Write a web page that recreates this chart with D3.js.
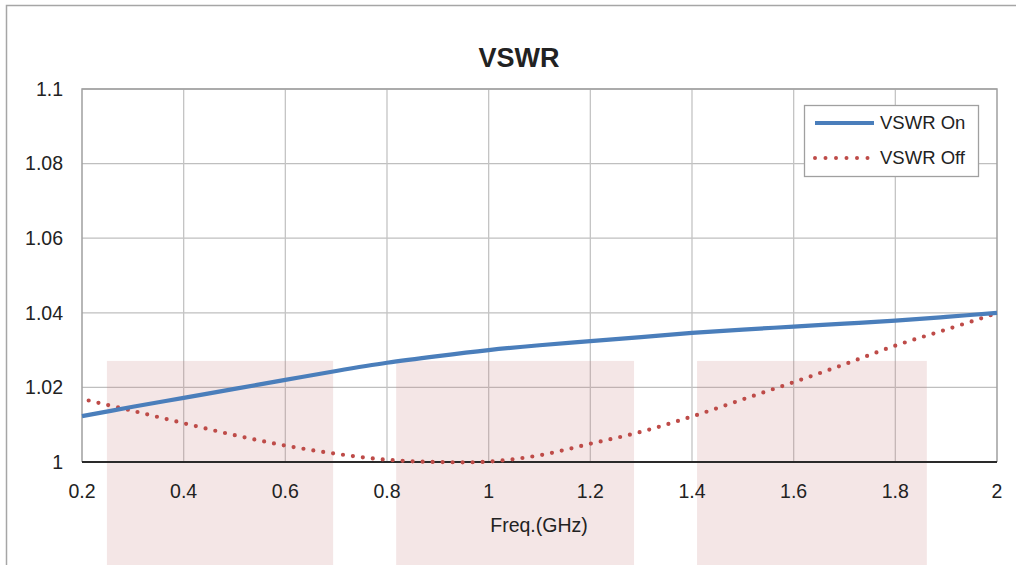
<!DOCTYPE html>
<html>

<head>
    <meta charset="utf-8">
    <script src="https://cdn.jsdelivr.net/npm/d3@7"></script>
    <style>
        body { margin: 0; background: #fff; }
        text {
            fill: #222;
            font-family: "Liberation Sans", Arial, sans-serif;
        }
    </style>
</head>

<body>

    <script>

        // frequencies (GHz) and VSWR values
        var freq = [0.2, 0.3, 0.4, 0.5, 0.6, 0.7, 0.8, 0.9, 1.0, 1.1, 1.2, 1.3, 1.4, 1.5, 1.6, 1.7, 1.8, 1.9, 2.0];
        var vswrOn = [1.0123, 1.0148, 1.0172, 1.0196, 1.0220, 1.0244, 1.0266, 1.0284, 1.0300, 1.0313,
            1.0324, 1.0335, 1.0346, 1.0355, 1.0363, 1.0371, 1.0379, 1.0389, 1.0400];
        var vswrOff = [1.0169, 1.0137, 1.0104, 1.0072, 1.0044, 1.0022, 1.0006, 1.0000, 1.0001, 1.0018,
            1.0049, 1.0081, 1.0122, 1.0168, 1.0214, 1.0262, 1.0312, 1.0355, 1.0399];
        var seriesNames = ["VSWR On", "VSWR Off"];
        var xTicks = [0.2, 0.4, 0.6, 0.8, 1, 1.2, 1.4, 1.6, 1.8, 2];
        var yTicks = [1, 1.02, 1.04, 1.06, 1.08, 1.1];
        // pale background blocks (GHz start, GHz end, top value)
        var blockStart = [0.249, 0.818, 1.410];
        var blockEnd = [0.694, 1.286, 1.862];
        var blockTop = 1.0271;

        var width = 1016, height = 565;
        var plot = { left: 82, top: 89, right: 997, bottom: 462 };

        var svg = d3.select('body')
            .append('svg')
            .attr('width', width)
            .attr('height', height);

        var x = d3.scaleLinear().domain([0.2, 2]).range([plot.left, plot.right]);
        var y = d3.scaleLinear().domain([1, 1.1]).range([plot.bottom, plot.top]);

        // outer chart frame
        svg.append('path')
            .attr('d', 'M6.5,' + height + 'V5.5H' + width)
            .attr('fill', 'none')
            .attr('stroke', '#a6a6a6')
            .attr('stroke-width', 1.5);

        // title
        svg.append('text')
            .attr('x', 519)
            .attr('y', 67)
            .attr('text-anchor', 'middle')
            .style('font-weight', 'bold')
            .style('font-size', '27px')
            .text('VSWR');

        // gridlines
        svg.append('g')
            .selectAll('line')
            .data(yTicks.slice(1))
            .join('line')
            .attr('x1', plot.left).attr('x2', plot.right)
            .attr('y1', d => y(d)).attr('y2', d => y(d))
            .attr('stroke', '#bfbfbf')
            .attr('stroke-width', 1.3);

        svg.append('g')
            .selectAll('line')
            .data(xTicks.slice(1, -1))
            .join('line')
            .attr('x1', d => x(d)).attr('x2', d => x(d))
            .attr('y1', plot.top).attr('y2', plot.bottom)
            .attr('stroke', '#c4c4c4')
            .attr('stroke-width', 1.3);

        // plot border (left, top, right)
        svg.append('path')
            .attr('d', 'M' + plot.left + ',' + plot.bottom + 'V' + plot.top + 'H' + plot.right + 'V' + plot.bottom)
            .attr('fill', 'none')
            .attr('stroke', '#a0a0a0')
            .attr('stroke-width', 1.5);

        // pale blocks
        svg.append('g')
            .selectAll('rect')
            .data(blockStart)
            .join('rect')
            .attr('x', d => x(d))
            .attr('width', (d, i) => x(blockEnd[i]) - x(d))
            .attr('y', y(blockTop))
            .attr('height', height - y(blockTop))
            .attr('fill', '#c98080')
            .attr('fill-opacity', 0.2);

        // bottom axis line
        svg.append('line')
            .attr('x1', plot.left).attr('x2', plot.right)
            .attr('y1', plot.bottom).attr('y2', plot.bottom)
            .attr('stroke', '#2a2a2a')
            .attr('stroke-width', 2);

        // tick labels
        svg.append('g')
            .selectAll('text')
            .data(yTicks)
            .join('text')
            .attr('x', 63)
            .attr('y', d => y(d))
            .attr('dy', '.35em')
            .attr('text-anchor', 'end')
            .style('font-size', '19.5px')
            .text(d => d3.format('')(d));

        svg.append('g')
            .selectAll('text')
            .data(xTicks)
            .join('text')
            .attr('x', d => x(d))
            .attr('y', 498)
            .attr('text-anchor', 'middle')
            .style('font-size', '19.5px')
            .text(d => d3.format('')(d));

        // axis title
        svg.append('text')
            .attr('x', 539)
            .attr('y', 532)
            .attr('text-anchor', 'middle')
            .style('font-size', '19.5px')
            .text('Freq.(GHz)');

        // series
        var line = d3.line()
            .x((d, i) => x(freq[i]))
            .y(d => y(d))
            .curve(d3.curveCatmullRom.alpha(0.5));

        svg.append('path')
            .attr('d', line(vswrOff))
            .attr('fill', 'none')
            .attr('stroke', '#be4b48')
            .attr('stroke-width', 4.2)
            .attr('stroke-linecap', 'round')
            .attr('stroke-dasharray', '0 10')
            .attr('stroke-dashoffset', -7);

        svg.append('path')
            .attr('d', line(vswrOn))
            .attr('fill', 'none')
            .attr('stroke', '#4a7ebb')
            .attr('stroke-width', 4.2);

        // legend
        var legend = svg.append('g');
        legend.append('rect')
            .attr('x', 804.5).attr('y', 105.5)
            .attr('width', 174).attr('height', 71)
            .attr('fill', '#fff')
            .attr('stroke', '#a0a0a0')
            .attr('stroke-width', 1.3);

        seriesNames.forEach(function (name, i) {
            var ly = 123 + i * 35;
            legend.append('line')
                .attr('x1', 815).attr('x2', 874)
                .attr('y1', ly).attr('y2', ly)
                .attr('stroke', i === 0 ? '#4a7ebb' : '#be4b48')
                .attr('stroke-width', i === 0 ? 4.2 : 4)
                .attr('stroke-linecap', i === 0 ? 'butt' : 'round')
                .attr('stroke-dasharray', i === 0 ? null : '0 10.5');
            legend.append('text')
                .attr('x', 880)
                .attr('y', ly)
                .attr('dy', '.35em')
                .style('font-size', '18.5px')
                .text(name);
        });
    </script>

</body>

</html>
